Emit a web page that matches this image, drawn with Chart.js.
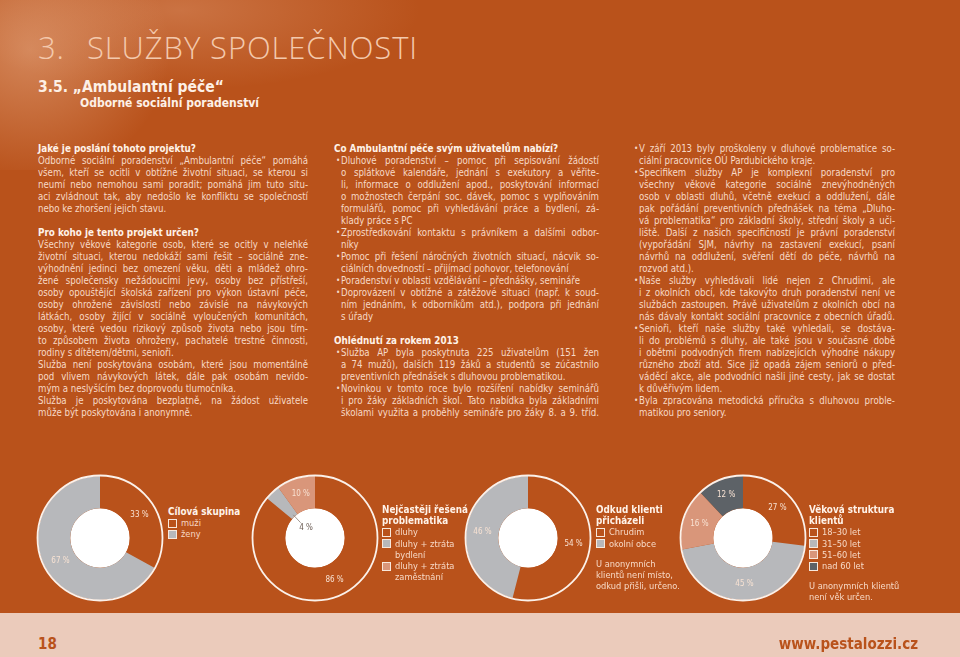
<!DOCTYPE html>
<html lang="cs">
<head>
<meta charset="utf-8">
<title>Služby společnosti – Ambulantní péče</title>
<script src="https://cdn.jsdelivr.net/npm/chart.js@4.4.1/dist/chart.umd.min.js"></script>
<style>
  html, body { margin: 0; padding: 0; }
  body {
    width: 960px; height: 657px; overflow: hidden; position: relative;
    background: #b9521b;
    font-family: "DejaVu Sans Condensed", "DejaVu Sans", sans-serif;
    color: #f7d9c6;
  }
  .splash {
    position: absolute; left: 0; top: 0; width: 420px; height: 170px;
    background:
      radial-gradient(ellipse 140px 130px at 30px 50px, rgba(238, 185, 150, 0.5), rgba(238, 185, 150, 0) 100%),
      radial-gradient(ellipse 240px 80px at 180px 10px, rgba(235, 175, 140, 0.35), rgba(235, 175, 140, 0) 100%);
  }
  .abs { position: absolute; white-space: nowrap; }
  .title { font-family: "Open Sans", "DejaVu Sans", sans-serif; font-weight: 300; font-size: 31px; line-height: 31px; letter-spacing: 0.9px; color: #f3c9ad; }
  .sub1 { font-weight: bold; font-size: 15.5px; line-height: 16px; color: #fdf0e6; }
  .sub2 { font-weight: bold; font-size: 12px; line-height: 12px; color: #fdf0e6; }
  .col { position: absolute; top: 143px; }
  .ln { position: relative; height: 12px; line-height: 12px; font-size: 9.6px; white-space: nowrap; }
  .ln.h { font-weight: bold; font-size: 9.8px; color: #fff2e8; }
  .ln .dot { position: absolute; left: -7px; top: 0; font-size: 8px; }
  .chart { position: absolute; width: 136px; height: 136px; }
  .legend { position: absolute; font-size: 9.2px; line-height: 11.2px; color: #f7d9c6; }
  .legend .lt { font-weight: bold; font-size: 9.8px; color: #fff2e8; }
  .legend .it { display: flex; align-items: flex-start; }
  .legend .bx { width: 7px; height: 7px; border: 1px solid #f8e8dc; margin: 1.5px 4px 0 0; flex: none; }
  .legend .tx { max-width: 72px; white-space: normal; }
  .legend .note { margin-top: 9px; }
  .footer { position: absolute; left: 0; top: 613px; width: 960px; height: 44px; background: #ebcbbb; }
  .footer span { position: absolute; top: 23px; font-weight: bold; font-size: 15px; line-height: 16px; color: #b9521b; }
</style>
</head>
<body>
<div class="splash"></div>
<div class="abs title" style="left:38px; top:32px;">3.</div>
<div class="abs title" style="left:87px; top:32px;">SLUŽBY SPOLEČNOSTI</div>
<div class="abs sub1" style="left:38px; top:79px;">3.5. „Ambulantní péče“</div>
<div class="abs sub2" style="left:80px; top:97px;">Odborné sociální poradenství</div>

<div class="col" id="col1" style="left:38px; width:270px;"></div>
<div class="col" id="col2" style="left:334px; width:265px;"></div>
<div class="col" id="col3" style="left:632px; width:263px;"></div>

<div class="chart" style="left:32px; top:470px;"><canvas id="c1" width="136" height="136"></canvas></div>
<div class="chart" style="left:247px; top:470px;"><canvas id="c2" width="136" height="136"></canvas></div>
<div class="chart" style="left:460px; top:470px;"><canvas id="c3" width="136" height="136"></canvas></div>
<div class="chart" style="left:675px; top:470px;"><canvas id="c4" width="136" height="136"></canvas></div>

<div class="legend" id="lg1" style="left:168px; top:506px;"></div>
<div class="legend" id="lg2" style="left:382px; top:504px;"></div>
<div class="legend" id="lg3" style="left:596px; top:504px;"></div>
<div class="legend" id="lg4" style="left:809px; top:504px;"></div>

<div class="footer">
  <span style="left:38px;">18</span>
  <span style="right:42px;">www.pestalozzi.cz</span>
</div>

<script>
// chart data
const groupLabels = ["muži", "ženy"];
const groupValues = [33, 67];
const problemLabels = ["dluhy", "dluhy + ztráta bydlení", "dluhy + ztráta zaměstnání"];
const problemValues = [86, 4, 10];
const originLabels = ["Chrudim", "okolní obce"];
const originValues = [54, 46];
const ageLabels = ["18–30 let", "31–50 let", "51–60 let", "nad 60 let"];
const ageValues = [27, 45, 16, 12];

const ORANGE = "#b9521b";
const GREY = "#b7b8bb";
const SALMON = "#d9967a";
const SLATE = "#5d6267";

// page text, line by line as printed
const col1 = [
  { h: "Jaké je poslání tohoto projektu?" },
  { p: [
    "Odborné sociální poradenství „Ambulantní péče“ pomáhá",
    "všem, kteří se ocitli v obtížné životní situaci, se kterou si",
    "neumí nebo nemohou sami poradit; pomáhá jim tuto situ-",
    "aci zvládnout tak, aby nedošlo ke konfliktu se společností",
    "nebo ke zhoršení jejich stavu."
  ] },
  { gap: true },
  { h: "Pro koho je tento projekt určen?" },
  { p: [
    "Všechny věkové kategorie osob, které se ocitly v nelehké",
    "životní situaci, kterou nedokáží sami řešit – sociálně zne-",
    "výhodnění jedinci bez omezení věku, děti a mládež ohro-",
    "žené společensky nežádoucími jevy, osoby bez přístřeší,",
    "osoby opouštějící školská zařízení pro výkon ústavní péče,",
    "osoby ohrožené závislostí nebo závislé na návykových",
    "látkách, osoby žijící v sociálně vyloučených komunitách,",
    "osoby, které vedou rizikový způsob života nebo jsou tím-",
    "to způsobem života ohroženy, pachatelé trestné činnosti,",
    "rodiny s dítětem/dětmi, senioři."
  ] },
  { p: [
    "Služba není poskytována osobám, které jsou momentálně",
    "pod vlivem návykových látek, dále pak osobám nevido-",
    "mým a neslyšícím bez doprovodu tlumočníka."
  ] },
  { p: [
    "Služba je poskytována bezplatně, na žádost uživatele",
    "může být poskytována i anonymně."
  ] }
];

const col2 = [
  { h: "Co Ambulantní péče svým uživatelům nabízí?" },
  { b: [
    "Dluhové poradenství – pomoc při sepisování žádostí",
    "o splátkové kalendáře, jednání s exekutory a věřite-",
    "li, informace o oddlužení apod., poskytování informací",
    "o možnostech čerpání soc. dávek, pomoc s vyplňováním",
    "formulářů, pomoc při vyhledávání práce a bydlení, zá-",
    "klady práce s PC"
  ] },
  { b: [
    "Zprostředkování kontaktu s právníkem a dalšími odbor-",
    "níky"
  ] },
  { b: [
    "Pomoc při řešení náročných životních situací, nácvik so-",
    "ciálních dovedností – přijímací pohovor, telefonování"
  ] },
  { b: ["Poradenství v oblasti vzdělávání – přednášky, semináře"] },
  { b: [
    "Doprovázení v obtížné a zátěžové situaci (např. k soud-",
    "ním jednáním, k odborníkům atd.), podpora při jednání",
    "s úřady"
  ] },
  { gap: true },
  { h: "Ohlédnutí za rokem 2013" },
  { b: [
    "Služba AP byla poskytnuta 225 uživatelům (151 žen",
    "a 74 mužů), dalších 119 žáků a studentů se zúčastnilo",
    "preventivních přednášek s dluhovou problematikou."
  ] },
  { b: [
    "Novinkou v tomto roce bylo rozšíření nabídky seminářů",
    "i pro žáky základních škol. Tato nabídka byla základními",
    "školami využita a proběhly semináře pro žáky 8. a 9. tříd."
  ], full: true }
];

const col3 = [
  { b: [
    "V září 2013 byly proškoleny v dluhové problematice so-",
    "ciální pracovnice OÚ Pardubického kraje."
  ] },
  { b: [
    "Specifikem služby AP je komplexní poradenství pro",
    "všechny věkové kategorie sociálně znevýhodněných",
    "osob v oblasti dluhů, včetně exekucí a oddlužení, dále",
    "pak pořádání preventivních přednášek na téma „Dluho-",
    "vá problematika“ pro základní školy, střední školy a uči-",
    "liště. Další z našich specifičností je právní poradenství",
    "(vypořádání SJM, návrhy na zastavení exekucí, psaní",
    "návrhů na oddlužení, svěření dětí do péče, návrhů na",
    "rozvod atd.)."
  ] },
  { b: [
    "Naše služby vyhledávali lidé nejen z Chrudimi, ale",
    "i z okolních obcí, kde takovýto druh poradenství není ve",
    "službách zastoupen. Právě uživatelům z okolních obcí na",
    "nás dávaly kontakt sociální pracovnice z obecních úřadů."
  ], full: true },
  { b: [
    "Senioři, kteří naše služby také vyhledali, se dostáva-",
    "li do problémů s dluhy, ale také jsou v současné době",
    "i obětmi podvodných firem nabízejících výhodné nákupy",
    "různého zboží atd. Sice již opadá zájem seniorů o před-",
    "váděcí akce, ale podvodníci našli jiné cesty, jak se dostat",
    "k důvěřivým lidem."
  ] },
  { b: [
    "Byla zpracována metodická příručka s dluhovou proble-",
    "matikou pro seniory."
  ] }
];

const INDENT = 7;

function buildColumn(id, blocks) {
  const col = document.getElementById(id);
  const colW = parseFloat(col.style.width);
  const todo = [];
  blocks.forEach(function (blk) {
    if (blk.gap) {
      const d = document.createElement("div");
      d.className = "ln";
      col.appendChild(d);
      return;
    }
    if (blk.h) {
      const d = document.createElement("div");
      d.className = "ln h";
      d.innerHTML = "<span></span>";
      d.firstChild.textContent = blk.h;
      col.appendChild(d);
      return;
    }
    const lines = blk.p || blk.b;
    lines.forEach(function (txt, i) {
      const d = document.createElement("div");
      d.className = "ln";
      const sp = document.createElement("span");
      sp.textContent = txt;
      if (blk.b) {
        d.style.paddingLeft = INDENT + "px";
        if (i === 0) {
          const dot = document.createElement("span");
          dot.className = "dot";
          dot.style.left = "2px";
          dot.textContent = "•";
          d.appendChild(dot);
        }
      }
      d.appendChild(sp);
      col.appendChild(d);
      const last = i === lines.length - 1;
      todo.push({ sp: sp, target: colW - (blk.b ? INDENT : 0), justify: !last || blk.full });
    });
  });
  // stretch or squeeze every printed line to the column measure
  todo.forEach(function (t) {
    const w = t.sp.getBoundingClientRect().width;
    if (w > t.target) {
      t.sp.style.display = "inline-block";
      t.sp.style.transformOrigin = "0 50%";
      t.sp.style.transform = "scaleX(" + (t.target / w) + ")";
    } else if (t.justify) {
      const n = (t.sp.textContent.match(/ /g) || []).length;
      if (n) t.sp.style.wordSpacing = ((t.target - w) / n) + "px";
    }
  });
}

function buildLegend(id, titleHtml, labels, colors, noteHtml) {
  const el = document.getElementById(id);
  let html = '<div class="lt">' + titleHtml + "</div>";
  labels.forEach(function (lab, i) {
    html += '<div class="it"><span class="bx" style="background:' + colors[i] + '"></span><span class="tx">' + lab + "</span></div>";
  });
  if (noteHtml) html += '<div class="note">' + noteHtml + "</div>";
  el.innerHTML = html;
}

// white hole, white outline and percentage labels
const ringPlugin = {
  id: "ring",
  beforeDatasetsDraw(chart) {
    const a = chart.getDatasetMeta(0).data[0];
    const ctx = chart.ctx;
    ctx.save();
    ctx.beginPath();
    ctx.arc(a.x, a.y, a.innerRadius, 0, Math.PI * 2);
    ctx.fillStyle = "#ffffff";
    ctx.fill();
    ctx.restore();
  },
  afterDatasetsDraw(chart) {
    const meta = chart.getDatasetMeta(0);
    const values = chart.data.datasets[0].data;
    const ctx = chart.ctx;
    const a0 = meta.data[0];
    ctx.save();
    ctx.beginPath();
    ctx.arc(a0.x, a0.y, a0.outerRadius + 0.5, 0, Math.PI * 2);
    ctx.lineWidth = 1.8;
    ctx.strokeStyle = "#fbf1ea";
    ctx.stroke();
    ctx.font = "8px 'DejaVu Sans Condensed', 'DejaVu Sans', sans-serif";
    ctx.textAlign = "center";
    ctx.textBaseline = "middle";
    meta.data.forEach(function (arc, i) {
      const mid = (arc.startAngle + arc.endAngle) / 2;
      const cos = Math.cos(mid), sin = Math.sin(mid);
      const txt = values[i] + " %";
      if (values[i] < 6) {
        // too thin for a label: put it in the hole with a short leader
        ctx.strokeStyle = "#8a7d76";
        ctx.lineWidth = 0.8;
        ctx.beginPath();
        ctx.moveTo(arc.x + cos * 21, arc.y + sin * 21);
        ctx.lineTo(arc.x + cos * (arc.innerRadius + 2), arc.y + sin * (arc.innerRadius + 2));
        ctx.stroke();
        ctx.fillStyle = "#6b5c54";
        ctx.fillText(txt, arc.x + cos * 16 + 2, arc.y + sin * 16 + 2);
      } else {
        const r = (arc.innerRadius + arc.outerRadius) / 2;
        ctx.fillStyle = "#f8e2d3";
        ctx.fillText(txt, arc.x + cos * r, arc.y + sin * r);
      }
    });
    ctx.restore();
  }
};

function makeDoughnut(id, labels, values, colors) {
  const ctx = document.getElementById(id).getContext("2d");
  return new Chart(ctx, {
    type: "doughnut",
    data: {
      labels: labels,
      datasets: [{
        data: values,
        backgroundColor: colors,
        borderWidth: 0
      }]
    },
    options: {
      responsive: false,
      animation: false,
      cutout: "48%",
      layout: { padding: 6 },
      plugins: {
        legend: { display: false },
        tooltip: { enabled: false }
      }
    },
    plugins: [ringPlugin]
  });
}

document.addEventListener("DOMContentLoaded", function () {
  buildColumn("col1", col1);
  buildColumn("col2", col2);
  buildColumn("col3", col3);

  const groupColors = [ORANGE, GREY];
  const problemColors = [ORANGE, GREY, SALMON];
  const originColors = [ORANGE, GREY];
  const ageColors = [ORANGE, GREY, SALMON, SLATE];

  makeDoughnut("c1", groupLabels, groupValues, groupColors);
  makeDoughnut("c2", problemLabels, problemValues, problemColors);
  makeDoughnut("c3", originLabels, originValues, originColors);
  makeDoughnut("c4", ageLabels, ageValues, ageColors);

  buildLegend("lg1", "Cílová skupina", groupLabels, groupColors);
  buildLegend("lg2", "Nejčastěji řešená<br>problematika", problemLabels, problemColors);
  buildLegend("lg3", "Odkud klienti<br>přicházeli", originLabels, originColors,
    "U anonymních<br>klientů není místo,<br>odkud přišli, určeno.");
  buildLegend("lg4", "Věková struktura<br>klientů", ageLabels, ageColors,
    "U anonymních klientů<br>není věk určen.");
});
</script>
</body>
</html>
